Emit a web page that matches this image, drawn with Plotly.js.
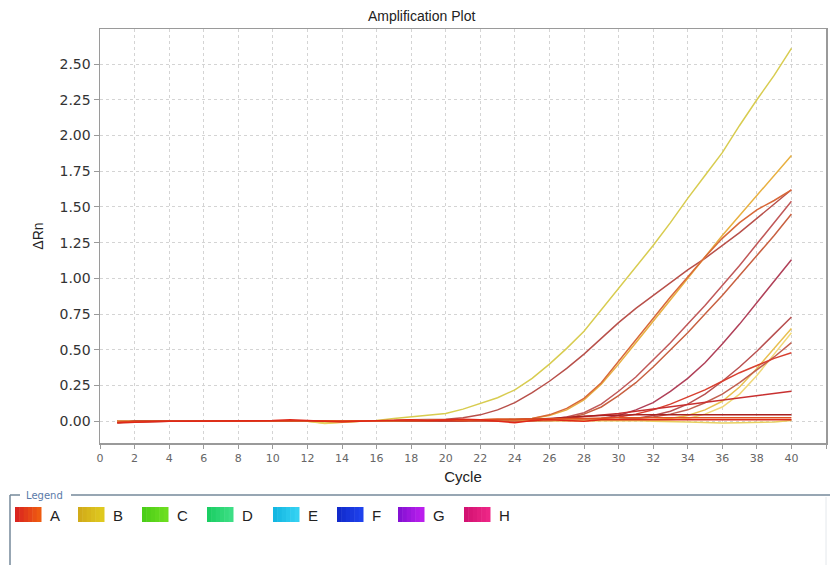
<!DOCTYPE html>
<html>
<head>
<meta charset="utf-8">
<script src="https://cdn.plot.ly/plotly-3.0.1.min.js"></script>
<style>html,body{margin:0;padding:0;background:#fff;}#chart{width:830px;height:565px;}</style>
</head>
<body>
<div id="chart"></div>
<script>
// ---- data ----
const cycles = Array.from({length: 40}, (_, i) => i + 1);

const wellY1 = [0,0,0,0,0,0,0,0,0,0.005,0.005,0,-0.012,-0.005,0,0.005,0.02,0.03,0.045,0.054,0.085,0.124,0.165,0.22,0.3,0.4,0.51,0.63,0.78,0.93,1.08,1.23,1.39,1.56,1.72,1.88,2.07,2.25,2.42,2.61];
const wellR1 = [-0.01,-0.005,0,0,0,0,0,0,0,0.005,0.005,0,0,0,0,0.005,0.005,0.01,0.01,0.015,0.025,0.045,0.08,0.13,0.2,0.28,0.37,0.47,0.58,0.69,0.79,0.88,0.97,1.06,1.14,1.23,1.32,1.42,1.52,1.62];
const wellY2 = [0,0,0,0,0,0,0,0,0,0,0.005,0,0,0,0,0,0,0,0,0.005,0.005,0.01,0.01,0.015,0.02,0.04,0.08,0.15,0.26,0.4,0.55,0.7,0.85,1.0,1.15,1.3,1.44,1.58,1.72,1.86];
const wellO1 = [0,0,0,0,0,0,0,0,0,0,0,0,0,0,0,0,0,0,0.005,0.005,0.005,0.01,0.01,0.015,0.02,0.045,0.09,0.16,0.27,0.42,0.57,0.72,0.87,1.01,1.15,1.28,1.39,1.48,1.545,1.62];
const wellP1 = [0,0,0,0,0,0,0,0,0,0,0,0,0,0,0,0,0,0,0,0,0,0,0.005,0.005,0.01,0.015,0.03,0.06,0.12,0.21,0.31,0.43,0.55,0.68,0.81,0.95,1.09,1.24,1.39,1.54];
const wellP2 = [0,0,0,0,0,0,0,0,0,0,0,0,0,0,0,0,0,0,0,0,0,0,0,0.005,0.005,0.01,0.02,0.05,0.1,0.18,0.27,0.38,0.5,0.62,0.75,0.88,1.02,1.16,1.3,1.45];
const wellM1 = [0,0,0,0,0,0,0,0,0,0,0,0,0,0,0,0,0,0,0,0,0,0,0,0,0.005,0.005,0.01,0.01,0.02,0.04,0.08,0.13,0.21,0.3,0.41,0.54,0.68,0.83,0.98,1.13];
const wellL1 = [0,0,0,0,0,0,0,0,0,0,0,0,0,0,0,0,0,0,0,0,0,0,0,0,0,0.005,0.005,0.005,0.01,0.01,0.02,0.04,0.07,0.12,0.19,0.28,0.38,0.49,0.61,0.73];
const wellL2 = [0,0,0,0,0,0,0,0,0,0,0,0,0,0,0,0,0,0,0,0,0,0,0,0,0,0,0,0,0.005,0.005,0.005,0.01,0.02,0.04,0.08,0.14,0.24,0.37,0.51,0.65];
const wellL3 = [0,0,0,0,0,0,0,0,0,0,0,0,0,0,0,0,0,0,0,0,0,0,0,0,0,0,0,0,0,0,0.005,0.005,0.01,0.02,0.05,0.1,0.19,0.32,0.47,0.62];
const wellL4 = [0,0,0,0,0,0,0,0,0,0,0,0,0,0,0,0,0,0,0,0,0,0,0,0,0.005,0.005,0.01,0.01,0.015,0.015,0.02,0.03,0.05,0.08,0.13,0.19,0.27,0.36,0.45,0.55];
const wellR3 = [0,0,0,0,0,0,0,0,0,0,0,0,0,0,0,0,0,0,0,0,0,0,0,0.005,0.005,0.01,0.01,0.015,0.02,0.03,0.05,0.08,0.12,0.17,0.22,0.28,0.34,0.39,0.44,0.48];
const wellR2 = [0,0,0,0,0,0,0,0,0,0,0,0,0,0,0,0,0,0,0,0,0,0,0,0,0.005,0.01,0.02,0.03,0.04,0.055,0.07,0.085,0.1,0.115,0.13,0.145,0.16,0.175,0.19,0.21];
const wellF1 = [-0.01,0,0,0,0,0,0,0,0,0,0,0,0,0,0,0,0,0.005,0.005,0.005,0.005,0.01,0.01,0.01,0.015,0.02,0.03,0.035,0.04,0.045,0.045,0.045,0.045,0.045,0.045,0.045,0.045,0.045,0.045,0.045];
const wellF2 = [-0.005,0,0,0,0,0,0,0,0,0.005,0.005,0,0,0,0,0,0,0,0.005,0.01,0.005,0.01,0.015,0.01,0.015,0.015,0.02,0.02,0.025,0.025,0.025,0.025,0.025,0.025,0.025,0.025,0.025,0.025,0.025,0.025];
const wellF3 = [0,0,0,0,0,0,0,0,0,0,0,0,-0.015,-0.008,0,0,0.005,0.005,0.005,0.01,0.01,0.01,0.01,0.005,0.005,0.01,0.005,0.005,0.005,0.005,0.005,0.0,0.0,-0.005,-0.008,-0.012,-0.01,-0.008,-0.005,0.005];
const wellF4 = [-0.01,-0.005,0,0,0,0,0,0,0,0.005,0.01,0.005,0,-0.005,0,0.005,0.005,0.01,0.005,0.01,0.015,0.01,0.0,-0.01,0.005,0.01,0.005,0.0,0.01,0.01,0.01,0.01,0.01,0.01,0.01,0.01,0.01,0.01,0.01,0.01];

const wellSeries = [wellY1, wellR1, wellY2, wellO1, wellP1, wellP2, wellM1, wellL1, wellL2, wellL3, wellL4, wellR3, wellR2, wellF3, wellF1, wellF2, wellF4];
const wellColors = ['#d8cc50', '#b8504a', '#e8b040', '#d86838', '#c05858', '#c86040', '#b04058', '#b85050', '#e8c050', '#f0d878', '#c06050', '#d84030', '#c83030', '#e8d060', '#a82020', '#e05020', '#e02818'];

const legendLabels = ['A', 'B', 'C', 'D', 'E', 'F', 'G', 'H'];
const legendColorsLeft  = ['#d82020', '#d0a818', '#48cc18', '#18cc60', '#10b4e0', '#1028c8', '#8010d0', '#d01070'];
const legendColorsRight = ['#f06010', '#e0cc20', '#70e020', '#40e088', '#38d4f4', '#2044f0', '#c020f0', '#f02888'];

const yTickVals = [0, 0.25, 0.5, 0.75, 1.0, 1.25, 1.5, 1.75, 2.0, 2.25, 2.5];

// ---- traces ----
const traces = wellSeries.map((s, i) => ({
  x: cycles, y: s, type: 'scatter', mode: 'lines',
  line: {color: wellColors[i], width: 1.5},
  showlegend: false, hoverinfo: 'skip'
}));

// ---- layout helpers ----
const W = 830, H = 565, L = 100, R = 4, T = 29, B = 122;
const pw = W - L - R, ph = H - T - B;
const px = v => (v - L) / pw;
const py = v => (H - B - v) / ph;

function mix(a, b, t) {
  const pa = [1,3,5].map(k => parseInt(a.substr(k,2),16));
  const pb = [1,3,5].map(k => parseInt(b.substr(k,2),16));
  return 'rgb(' + pa.map((c, j) => Math.round(c + (pb[j]-c)*t)).join(',') + ')';
}

const shapes = [];
const annotations = [];
// legend frame
const lineCol = '#74889a';
shapes.push({type:'line', xref:'paper', yref:'paper', x0:px(10), x1:px(20), y0:py(495), y1:py(495), line:{color:lineCol, width:1.5}});
shapes.push({type:'line', xref:'paper', yref:'paper', x0:px(71), x1:px(830), y0:py(495), y1:py(495), line:{color:lineCol, width:1.5}});
shapes.push({type:'line', xref:'paper', yref:'paper', x0:px(10), x1:px(10), y0:py(495), y1:py(565), line:{color:lineCol, width:1.5}});
shapes.push({type:'line', xref:'paper', yref:'paper', x0:px(826), x1:px(826), y0:py(497), y1:py(565), line:{color:'#e4e8ec', width:1}});
annotations.push({xref:'paper', yref:'paper', x:px(24), y:py(495), xanchor:'left', yanchor:'middle', text:'Legend', showarrow:false, font:{family:'DejaVu Sans, sans-serif', size:10, color:'#5a7aa8'}});

const swX = [15, 78, 142, 207, 273, 337, 398, 464];
legendLabels.forEach((lab, i) => {
  const x0 = swX[i], w = 26, strips = 6;
  for (let k = 0; k < strips; k++) {
    shapes.push({type:'rect', xref:'paper', yref:'paper',
      x0:px(x0 + k*w/strips), x1:px(x0 + (k+1)*w/strips + 0.5), y0:py(522), y1:py(507),
      fillcolor: mix(legendColorsLeft[i], legendColorsRight[i], (k+0.5)/strips), line:{width:0}});
  }
  annotations.push({xref:'paper', yref:'paper', x:px(x0 + w + 7), y:py(515), xanchor:'left', yanchor:'middle',
    text: lab, showarrow:false, font:{family:'Liberation Sans, Arial, sans-serif', size:15, color:'#222'}});
});

const layout = {
  width: W, height: H,
  margin: {l: L, r: R, t: T, b: B},
  paper_bgcolor: '#ffffff', plot_bgcolor: '#ffffff',
  title: {text: 'Amplification Plot', x: 0.508, xanchor: 'center', y: 1 - 16/H, yanchor: 'middle',
    font: {family: 'Liberation Sans, Arial, sans-serif', size: 14, color: '#222'}},
  xaxis: {
    range: [0, 42], tick0: 0, dtick: 2, tickmode: 'linear',
    showline: true, linecolor: '#9a9a9a', linewidth: 1.5, mirror: true,
    ticks: 'outside', ticklen: 4, tickcolor: '#9a9a9a',
    showgrid: true, gridcolor: '#d4d4d4', griddash: '3px,3px', gridwidth: 1,
    zeroline: false,
    tickfont: {family: 'DejaVu Sans, sans-serif', size: 11, color: '#666'},
    title: {text: 'Cycle', standoff: 8, font: {family: 'Liberation Sans, Arial, sans-serif', size: 15, color: '#222'}}
  },
  yaxis: {
    range: [-0.152, 2.745], tickmode: 'array', tickvals: yTickVals, tickformat: '.2f',
    showline: true, linecolor: '#9a9a9a', linewidth: 1.5, mirror: true,
    ticks: 'outside', ticklen: 5, tickcolor: '#9a9a9a',
    showgrid: true, gridcolor: '#d4d4d4', griddash: '3px,3px', gridwidth: 1,
    zeroline: false,
    tickfont: {family: 'DejaVu Sans, sans-serif', size: 14, color: '#333'},
    title: {text: 'ΔRn', standoff: 12, font: {family: 'Liberation Sans, Arial, sans-serif', size: 14, color: '#222'}}
  },
  shapes: shapes,
  annotations: annotations,
  showlegend: false
};

Plotly.newPlot('chart', traces, layout, {displayModeBar: false, staticPlot: true});
</script>
</body>
</html>
